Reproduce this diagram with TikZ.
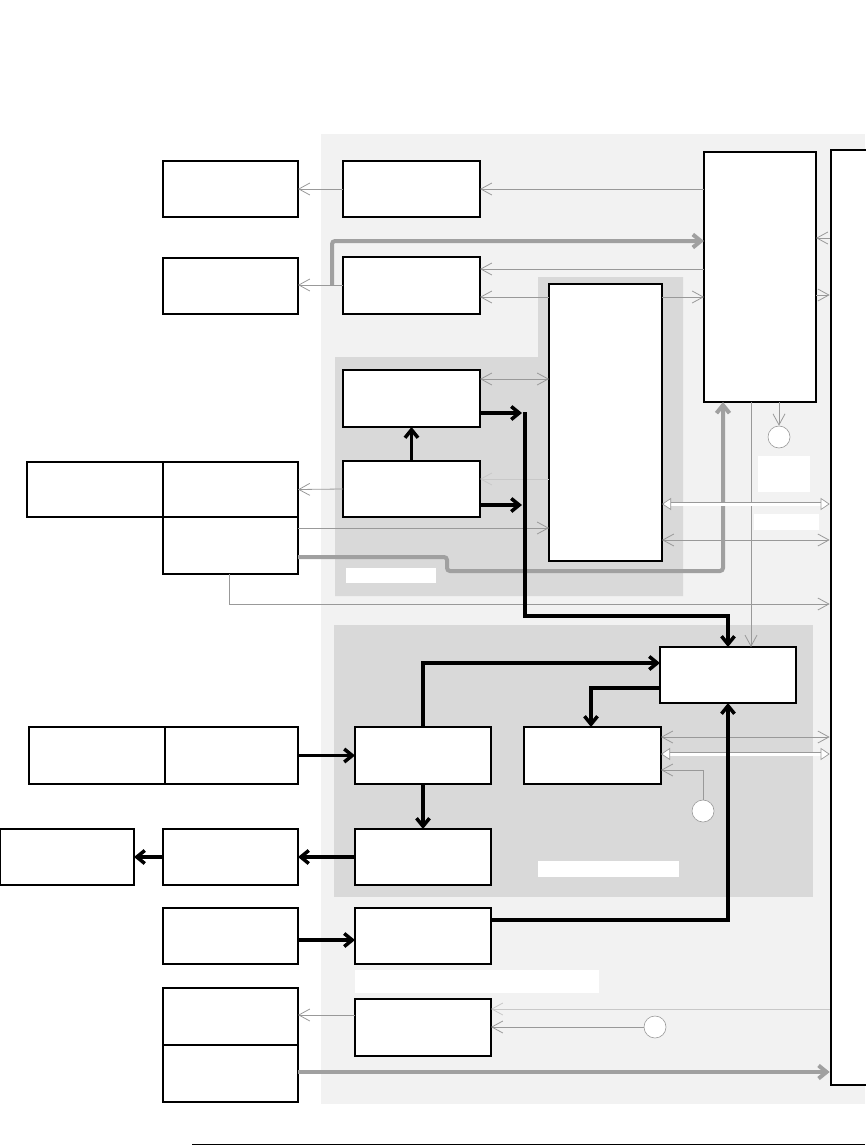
\documentclass[tikz,border=0pt]{standalone}
\usetikzlibrary{positioning,arrows.meta,calc}
\definecolor{paneC}{HTML}{F2F2F2}
\definecolor{groupC}{HTML}{D9D9D9}
\definecolor{wireC}{HTML}{999999}
\definecolor{faintC}{HTML}{C8C8C8}
\definecolor{busC}{HTML}{A0A0A0}

\begin{document}
\begin{tikzpicture}[
  x=1pt, y=-1pt,
  >={Straight Barb[length=11pt,width=12pt]},
  unitbox/.style={draw=black, fill=white, line width=1.2pt, inner sep=0pt,
                  outer sep=0pt, minimum width=136, minimum height=56},
  tag/.style={fill=white, inner sep=0pt},
  tap/.style={circle, draw=wireC, fill=white, line width=0.6pt,
              minimum size=22, inner sep=0pt},
  wire/.style={draw=wireC, line width=0.8pt},
  faint/.style={draw=faintC, line width=0.8pt},
  hollow/.style={draw=wireC, line width=0.7pt, double=white, double distance=3pt,
                 {Triangle[open, fill=white, length=9pt, width=12pt, line width=0.7pt]}-%
                 {Triangle[open, fill=white, length=9pt, width=12pt, line width=0.7pt]}},
  flow/.style={draw=black, line width=3.5pt,
               -{Straight Barb[length=8pt,width=13pt]}},
  grayflow/.style={draw=busC, line width=4pt, rounded corners=3pt,
                   -{Straight Barb[length=8pt,width=13pt]}},
]
\useasboundingbox (0,0) rectangle (865,1145);

% ── Shaded areas ──
\fill[paneC] (321,134) rectangle (865,1104);
\fill[groupC] (335,357) -- (538,357) -- (538,277) -- (683,277)
  -- (683,596) -- (335,596) -- cycle;
\fill[groupC] (334,625) rectangle (813,897);

% ── Upper rows ──
\node[unitbox, minimum width=135] (a1) at (230.5,189) {};
\node[unitbox, minimum width=137] (b1) at (411.5,189) {};
\node[unitbox, minimum width=135] (a2) at (230.5,286) {};
\node[unitbox, minimum width=137, minimum height=57] (b2) at (411.5,285.5) {};
\node[unitbox, minimum width=112, minimum height=250] (c) at (760,277) {};
\node[draw=black, fill=white, line width=2.6pt, minimum width=50,
      minimum height=935] (d) at (856,617.5) {};

% ── First group ──
\node[unitbox, minimum width=113, minimum height=277] (e) at (605.5,422.5) {};
\node[unitbox, minimum width=137, minimum height=57] (f) at (411.5,398.5) {};
\node[unitbox, minimum width=137] (g) at (411.5,489) {};
\node[unitbox, minimum height=55] (h1) at (95,489.5) {};
\node[unitbox, minimum width=135, minimum height=55, right=0pt of h1] (h2) {};
\node[unitbox, minimum width=135, minimum height=57, below=0pt of h2] (h3) {};
\node[tap] (c1) at (779,437) {};

% ── Second group ──
\node[unitbox] (k) at (728,675) {};
\node[unitbox, minimum height=57] (r1) at (97,755.5) {};
\node[unitbox, minimum width=133, minimum height=57, right=0pt of r1] (r2) {};
\node[unitbox, minimum height=57] (s) at (423,755.5) {};
\node[unitbox, minimum width=137, minimum height=57] (t) at (592.5,755.5) {};
\node[unitbox] (u) at (423,857) {};
\node[unitbox, minimum width=134] (v1) at (67,857) {};
\node[unitbox, minimum width=135] (v2) at (230.5,857) {};
\node[tap] (c2) at (703,811) {};

% ── Lower rows ──
\node[unitbox, minimum width=135] (n1) at (230.5,936) {};
\node[unitbox] (m) at (423,936) {};
\node[unitbox, minimum width=135, minimum height=57] (p1) at (230.5,1016.5) {};
\node[unitbox, minimum width=135, minimum height=57, below=0pt of p1] (p2) {};
\node[unitbox, minimum height=57] (q) at (423,1027.5) {};
\node[tap] (c3) at (655,1027) {};

% ── Blank labels ──
\node[tag, minimum width=90, minimum height=15] (tg1) at (391,575.5) {};
\node[tag, minimum width=52, minimum height=36] (tg2) at (784,474) {};
\node[tag, minimum width=65, minimum height=16] (tg3) at (786.5,522) {};
\node[tag, minimum width=141, minimum height=16] (tg4) at (608.5,869) {};
\node[tag, minimum width=244, minimum height=23] (tg5) at (477,981.5) {};

% ── Thin wires ──
\draw[wire, ->] (b1.west) -- (a1.east);
\draw[wire, ->] (c.west |- b1.east) -- (b1.east);
\draw[wire, ->] (b2.west |- 0,285) -- (a2.east |- 0,285);
\draw[wire, ->] (c.west |- 0,269) -- (b2.east |- 0,269);
\draw[wire, <-] (b2.east |- 0,297) -- (e.west |- 0,297);
\draw[wire, ->] (e.east |- 0,297) -- (c.west |- 0,297);
\draw[wire, ->] (d.west |- 0,238) -- (c.east |- 0,238);
\draw[wire, ->] (c.east |- 0,295) -- (d.west |- 0,295);
\draw[wire, <->] (f.east |- 0,379) -- (e.west |- 0,379);
\draw[faint, ->] (e.west |- 0,479) -- (g.east |- 0,479);
\draw[wire, ->] (g.west) -- (h2.east);
\draw[wire, ->] (h3.east |- 0,528) -- (e.west |- 0,528);
\draw[wire, <->] (e.east |- 0,540) -- (d.west |- 0,540);
\draw[wire, ->] (h3.south -| 229,0) |- (d.west |- 0,604);
\draw[wire, ->] (c.south -| 751,0) -- (k.north -| 751,0);
\draw[wire, ->] (c.south -| c1) -- (c1.north);
\draw[wire, <->] (t.east |- 0,737) -- (d.west |- 0,737);
\draw[wire, ->] (c2.north) |- (t.east |- 0,770);
\draw[wire, ->] (q.west |- 0,1015) -- (p1.east |- 0,1015);
\draw[faint, ->] (d.west |- 0,1009) -- (q.east |- 0,1009);
\draw[wire, ->] (c3.west) -- (q.east |- c3);

% ── Gray buses ──
\coordinate (tapA) at (332,285);
\draw[grayflow] (tapA) |- (c.west |- 0,241);
\draw[grayflow] (h3.east |- 0,557) -- (447,557) -- (447,571) -| (c.south -| 723,0);
\draw[grayflow] (p2.east |- 0,1072) -- (d.west |- 0,1072);

% ── Hollow links ──
\draw[hollow] (e.east |- 0,504) -- (d.west |- 0,504);
\draw[hollow] (t.east |- 0,754) -- (d.west |- 0,754);

% ── Black flows ──
\coordinate (busF) at (522,413);
\coordinate (busG) at (522,505);
\coordinate (busTop) at (525,412);
\draw[flow] (g.north) -- (f.south);
\draw[flow] (f.east |- busF) -- (busF);
\draw[flow] (g.east |- busG) -- (busG);
\draw[flow] (busTop) -- (525,616) -| (k.north);
\draw[flow] (r2.east) -- (s.west);
\draw[flow] (s.north) |- (k.west |- 0,663);
\draw[flow] (k.west |- 0,688) -| (t.north -| 591,0);
\draw[flow] (s.south) -- (u.north);
\draw[flow] (u.west) -- (v2.east);
\draw[flow] (v2.west) -- (v1.east);
\draw[flow] (n1.east |- 0,940) -- (m.west |- 0,940);
\draw[flow] (m.east |- 0,920) -| (k.south);

% ── Foot rule ──
\draw[line width=0.8pt] (192,1144) -- (865,1144);
\end{tikzpicture}
\end{document}
